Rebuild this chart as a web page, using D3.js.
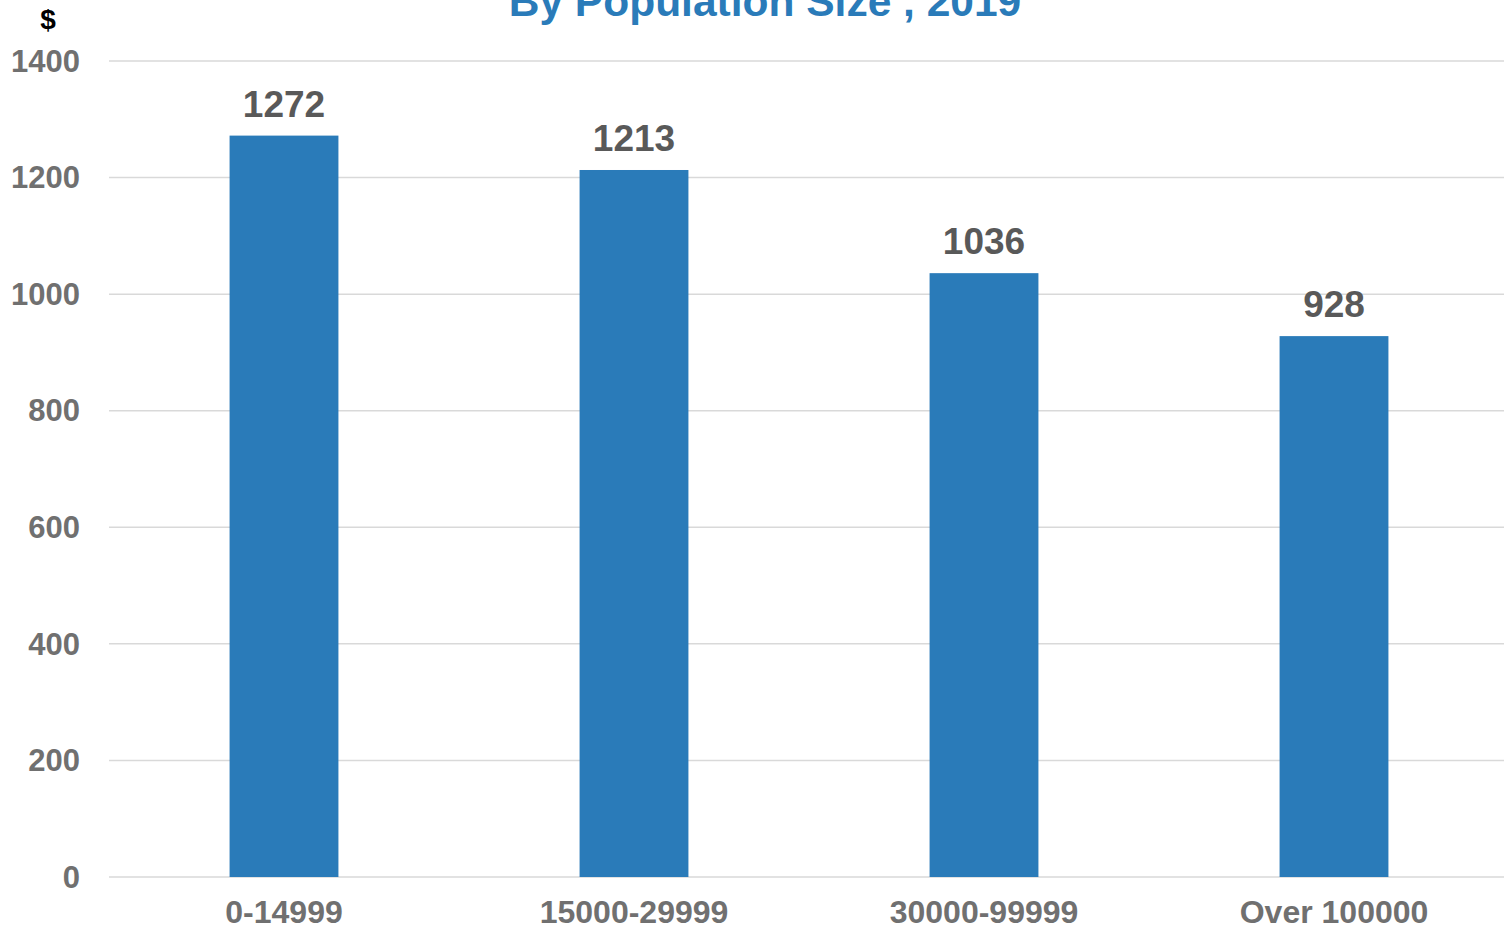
<!DOCTYPE html>
<html><head><meta charset="utf-8">
<script src="https://cdn.jsdelivr.net/npm/d3@7"></script>
<style>html,body{margin:0;padding:0;background:#fff;overflow:hidden}</style>
</head><body>
<svg id="c" width="1504" height="929"></svg>
<script>
const categories = ["0-14999", "15000-29999", "30000-99999", "Over 100000"];
const values = [1272, 1213, 1036, 928];
const yTicks = [0, 200, 400, 600, 800, 1000, 1200, 1400];
const titleText = "By Population Size , 2019";
const unitLabel = "$";

const svg = d3.select("#c");
const font = "'Liberation Sans', Arial, sans-serif";

const x = d3.scaleBand().domain(categories).range([109, 1509]).paddingInner(0.689).paddingOuter(0.3445);
const y = d3.scaleLinear().domain([0, 1400]).range([877, 61]);

// gridlines
svg.append("g").selectAll("line").data(yTicks).join("line")
  .attr("x1", 109).attr("x2", 1504)
  .attr("y1", d => y(d)).attr("y2", d => y(d))
  .attr("stroke", "#d9d9d9").attr("stroke-width", 1.5);

// y axis labels
const yAxis = d3.axisLeft(y).tickValues(yTicks).tickFormat(d3.format("d")).tickSize(0).tickPadding(0);
const ya = svg.append("g").attr("transform", "translate(80,0)").call(yAxis);
ya.select(".domain").remove();
ya.selectAll("text").attr("font-family", font).attr("font-weight", "bold")
  .attr("font-size", 31).attr("fill", "#707070").attr("dy", "0.33em");

// bars
svg.append("g").selectAll("rect").data(values).join("rect")
  .attr("x", (d, i) => x(categories[i]))
  .attr("width", x.bandwidth())
  .attr("y", d => y(d))
  .attr("height", d => y(0) - y(d))
  .attr("fill", "#2a7bb9");

// value labels
svg.append("g").selectAll("text").data(values).join("text")
  .attr("x", (d, i) => x(categories[i]) + x.bandwidth() / 2)
  .attr("y", d => y(d) - 19)
  .attr("text-anchor", "middle")
  .attr("font-family", font).attr("font-weight", "bold")
  .attr("font-size", 37).attr("fill", "#595959")
  .text(d => d);

// x axis labels
const xAxis = d3.axisBottom(x).tickSize(0).tickPadding(0);
const xa = svg.append("g").attr("transform", "translate(0,923)").call(xAxis);
xa.select(".domain").remove();
xa.selectAll("text").attr("font-family", font).attr("font-weight", "bold")
  .attr("font-size", 32).attr("fill", "#707070").attr("dy", 0);

// title
svg.append("text").attr("x", 765).attr("y", 16).attr("text-anchor", "middle")
  .attr("font-family", font).attr("font-weight", "bold").attr("font-size", 42.5)
  .attr("fill", "#2a7bb9").text(titleText);

svg.append("text").attr("x", 48).attr("y", 29).attr("text-anchor", "middle")
  .attr("font-family", font).attr("font-weight", "bold").attr("font-size", 28)
  .attr("fill", "#000").text(unitLabel);
</script>
</body></html>
